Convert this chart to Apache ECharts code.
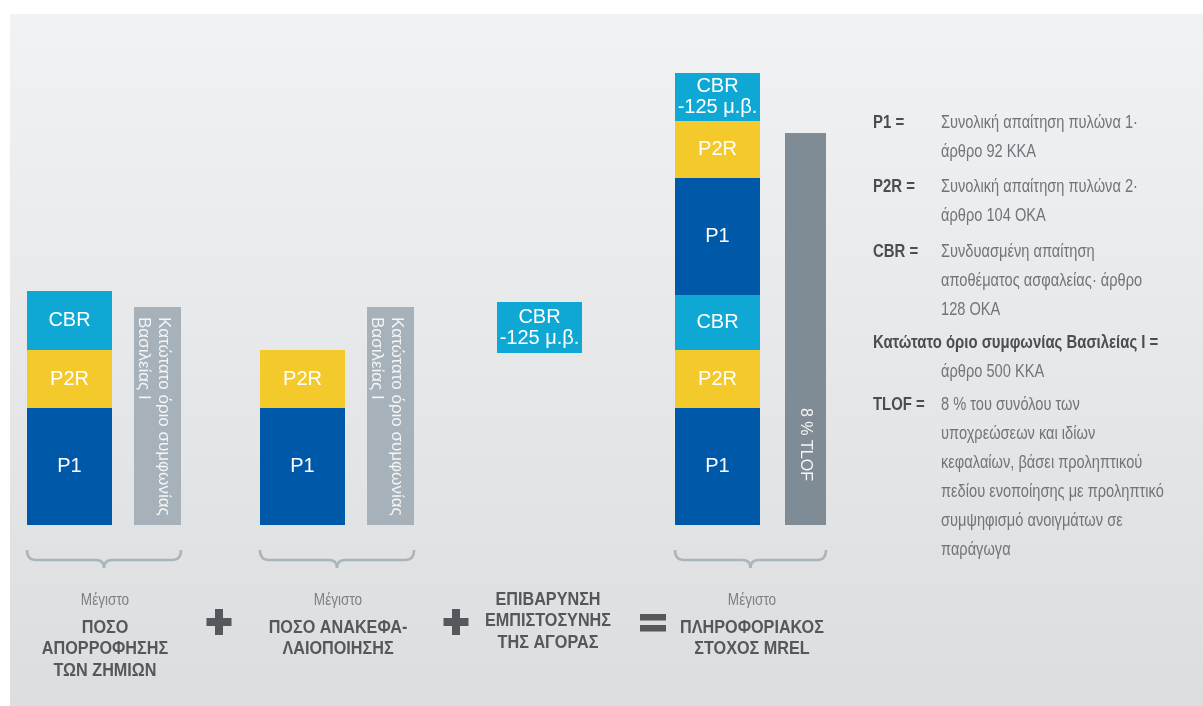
<!DOCTYPE html>
<html><head><meta charset="utf-8">
<script src="https://cdn.jsdelivr.net/npm/echarts@6/dist/echarts.min.js"></script>
<style>html,body{margin:0;padding:0;background:#fff;}#c{width:1203px;height:706px;}</style>
</head><body><div id="c"></div>
<script>
// ---------- data ----------
const lossAbsorption = [117, 58, 59];          // P1, P2R, CBR
const lossAbsorptionNames = ['P1', 'P2R', 'CBR'];
const recapitalisation = [117, 58];            // P1, P2R
const recapitalisationNames = ['P1', 'P2R'];
const baselFloors = [218, 218];                // Basel I floor bars
const marketConfidence = [172, 51];            // offset (invisible), CBR -125 bp
const mrel = [117, 58, 55, 117, 57, 48];
const mrelNames = ['P1', 'P2R', 'CBR', 'P1', 'P2R', 'CBR\n-125 μ.β.'];
const tlof = [392];

const baselLabel = 'Κατώτατο όριο συμφωνίας\nΒασιλείας Ι';
const tlofLabel = '8 % TLOF';
const cbrMccLabel = 'CBR\n-125 μ.β.';

const captionLight = ['Μέγιστο', 'Μέγιστο', '', 'Μέγιστο'];
const captionBold = [
  ['ΠΟΣΟ', 'ΑΠΟΡΡΟΦΗΣΗΣ', 'ΤΩΝ ΖΗΜΙΩΝ'],
  ['ΠΟΣΟ ΑΝΑΚΕΦΑ-', 'ΛΑΙΟΠΟΙΗΣΗΣ'],
  ['ΕΠΙΒΑΡΥΝΣΗ', 'ΕΜΠΙΣΤΟΣΥΝΗΣ', 'ΤΗΣ ΑΓΟΡΑΣ'],
  ['ΠΛΗΡΟΦΟΡΙΑΚΟΣ', 'ΣΤΟΧΟΣ MREL']
];
const legendTerms = ['P1 =', 'P2R =', 'CBR =', 'Κατώτατο όριο συμφωνίας Βασιλείας Ι =', 'TLOF ='];
const legendDescriptions = [
  ['Συνολική απαίτηση πυλώνα 1·', 'άρθρο 92 ΚΚΑ'],
  ['Συνολική απαίτηση πυλώνα 2·', 'άρθρο 104 ΟΚΑ'],
  ['Συνδυασμένη απαίτηση', 'αποθέματος ασφαλείας· άρθρο', '128 ΟΚΑ'],
  ['', 'άρθρο 500 ΚΚΑ'],
  ['8 % του συνόλου των', 'υποχρεώσεων και ιδίων', 'κεφαλαίων, βάσει προληπτικού', 'πεδίου ενοποίησης με προληπτικό', 'συμψηφισμό ανοιγμάτων σε', 'παράγωγα']
];

// ---------- styles / layout ----------
const FN = "'Liberation Sans','Arimo',sans-serif";
const COLORS = { P1: '#0059a8', P2R: '#f4c92b', CBR: '#0fa8d5', BASEL: '#a6b1b9', TLOF: '#7f8c95' };
const colLeft = [27, 134, 260, 367, 497, 675, 785];
const colWidth = [85, 47, 85, 47, 85, 85, 41];
const GRID_TOP = 25, GRID_H = 500, Y_MAX = 500;

const grids = [], xAxes = [], yAxes = [], series = [];
colLeft.forEach((l, i) => {
  grids.push({ left: l, top: GRID_TOP, width: colWidth[i], height: GRID_H });
  xAxes.push({ gridIndex: i, type: 'category', data: [''], show: false, boundaryGap: true });
  yAxes.push({ gridIndex: i, type: 'value', min: 0, max: Y_MAX, show: false, splitLine: { show: false } });
});

function colorOf(name) { return COLORS[name.split('\n')[0]] || COLORS.CBR; }
function seg(col, value, color, label, extraLabel) {
  series.push({
    type: 'bar', xAxisIndex: col, yAxisIndex: col, stack: 's' + col,
    barWidth: '100%', data: [value], silent: true,
    itemStyle: { color: color },
    label: Object.assign({
      show: !!label, position: 'inside', formatter: label || '',
      color: '#ffffff', fontSize: 20, fontFamily: FN, lineHeight: 21
    }, extraLabel || {})
  });
}
const rotLabel = { position: [19.5, 10], rotate: -90, align: 'left', verticalAlign: 'middle', fontSize: 17, lineHeight: 20, color: '#f3f5f6' };
lossAbsorption.forEach((v, k) => seg(0, v, colorOf(lossAbsorptionNames[k]), lossAbsorptionNames[k]));
seg(1, baselFloors[0], COLORS.BASEL, baselLabel, rotLabel);
recapitalisation.forEach((v, k) => seg(2, v, colorOf(recapitalisationNames[k]), recapitalisationNames[k]));
seg(3, baselFloors[1], COLORS.BASEL, baselLabel, rotLabel);
seg(4, marketConfidence[0], 'rgba(0,0,0,0)', '');
seg(4, marketConfidence[1], COLORS.CBR, cbrMccLabel);
mrel.forEach((v, k) => seg(5, v, colorOf(mrelNames[k]), mrelNames[k]));
seg(6, tlof[0], COLORS.TLOF, tlofLabel,
  { position: [20.5, 275], rotate: -90, align: 'left', verticalAlign: 'middle', fontSize: 16, color: '#f3f5f6' });

// ---------- graphics: background, braces, captions, operators, legend ----------
const graphic = [];
graphic.push({ type: 'rect', z: -10, shape: { x: 10, y: 14, width: 1193, height: 692 },
  style: { fill: new echarts.graphic.LinearGradient(0, 0, 0, 1, [{ offset: 0, color: '#f1f2f3' }, { offset: 1, color: '#dcdddf' }]) }, silent: true });

const BRACE = { stroke: '#a9b5bd', lineWidth: 2.5, fill: null };
function brace(x0, x1) {
  const xc = (x0 + x1) / 2, y0 = 550, y1 = 560, y2 = 568;
  const curve = (a, b, c, d, e, f) => graphic.push({ type: 'bezierCurve', silent: true,
    shape: { x1: a, y1: b, cpx1: c, cpy1: d, x2: e, y2: f }, style: BRACE });
  const line = (a, b, c, d) => graphic.push({ type: 'line', silent: true,
    shape: { x1: a, y1: b, x2: c, y2: d }, style: BRACE });
  curve(x0, y0, x0, y1, x0 + 9, y1);
  line(x0 + 9, y1, xc - 8, y1);
  curve(xc - 8, y1, xc, y1, xc, y2);
  curve(xc, y2, xc, y1, xc + 8, y1);
  line(xc + 8, y1, x1 - 9, y1);
  curve(x1 - 9, y1, x1, y1, x1, y0);
}
brace(27, 181); brace(260, 414); brace(675, 826);

// condensed text helper (horizontal scale to mimic a condensed typeface)
function txt(text, x, y, o) {
  graphic.push({ type: 'text', x: x, y: y, scaleX: o.sx || 0.8, silent: true,
    style: { text: text, x: 0, y: 0, fill: o.fill, fontSize: o.size, fontWeight: o.weight || 'normal',
      fontFamily: FN, textAlign: o.align || 'left', textVerticalAlign: 'middle' } });
}

const captionX = [105, 338, 548, 752];
captionX.forEach((x, i) => {
  const hasLight = !!captionLight[i];
  if (hasLight) txt(captionLight[i], x, 600, { fill: '#7c8186', size: 17, align: 'center', sx: 0.8 });
  const y0 = hasLight ? 628 : 600;
  captionBold[i].forEach((t, k) => txt(t, x, y0 + k * 21.5, { fill: '#53585c', size: 18, weight: 'bold', align: 'center', sx: 0.9 }));
});

const OPC = '#55595d';
[219, 456].forEach(cx => {
  graphic.push({ type: 'rect', shape: { x: cx - 12.5, y: 618, width: 25, height: 8 }, style: { fill: OPC }, silent: true });
  graphic.push({ type: 'rect', shape: { x: cx - 4, y: 609, width: 8, height: 26 }, style: { fill: OPC }, silent: true });
});
graphic.push({ type: 'rect', shape: { x: 640, y: 614, width: 26, height: 6.5 }, style: { fill: OPC }, silent: true });
graphic.push({ type: 'rect', shape: { x: 640, y: 625, width: 26, height: 6.5 }, style: { fill: OPC }, silent: true });

const legendY = [123, 187, 252, 343, 405];
const LINE = 29;
legendTerms.forEach((t, i) => {
  txt(t, 873, legendY[i], { fill: '#4a4e52', size: 19, weight: 'bold', sx: 0.785 });
  legendDescriptions[i].forEach((d, k) => {
    if (!d) return;
    txt(d, 941, legendY[i] + k * LINE, { fill: '#6f757a', size: 19, sx: 0.77 });
  });
});

const chart = echarts.init(document.getElementById('c'), null, { renderer: 'canvas' });
chart.setOption({
  backgroundColor: '#ffffff',
  animation: false,
  grid: grids, xAxis: xAxes, yAxis: yAxes, series: series,
  graphic: graphic
});
</script></body></html>
